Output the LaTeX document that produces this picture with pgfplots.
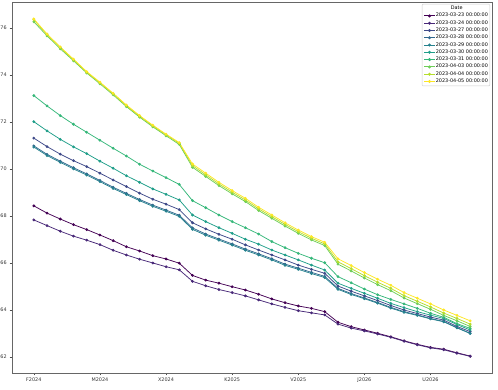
\documentclass[border=0pt]{standalone}
\usepackage{fontspec}
\setmainfont{DejaVu Sans}
\usepackage{pgfplots}
\usepackage{pgfplotstable}
\pgfplotsset{compat=1.18}

\definecolor{v0}{HTML}{440154}
\definecolor{v1}{HTML}{482878}
\definecolor{v2}{HTML}{3E4989}
\definecolor{v3}{HTML}{31688E}
\definecolor{v4}{HTML}{26828E}
\definecolor{v5}{HTML}{1F9E89}
\definecolor{v6}{HTML}{35B779}
\definecolor{v7}{HTML}{6ECE58}
\definecolor{v8}{HTML}{B5DE2B}
\definecolor{v9}{HTML}{FDE725}

\pgfplotstableread{
i A B C D E F G H I J
0 68.43 67.83 71.31 70.98 70.93 72.01 73.12 76.26 76.35 76.38
1 68.12 67.59 70.95 70.62 70.57 71.62 72.68 75.66 75.71 75.74
2 67.87 67.35 70.63 70.33 70.28 71.26 72.27 75.11 75.16 75.19
3 67.63 67.14 70.35 70.05 70.00 70.94 71.90 74.60 74.64 74.67
4 67.42 66.97 70.10 69.79 69.74 70.65 71.56 74.08 74.11 74.14
5 67.19 66.78 69.82 69.51 69.46 70.33 71.22 73.62 73.66 73.69
6 66.95 66.54 69.53 69.22 69.17 70.03 70.88 73.15 73.19 73.22
7 66.69 66.34 69.25 68.96 68.91 69.71 70.55 72.65 72.69 72.72
8 66.51 66.16 68.97 68.70 68.65 69.43 70.20 72.20 72.24 72.27
9 66.31 66.00 68.71 68.46 68.41 69.15 69.91 71.79 71.83 71.86
10 66.17 65.84 68.50 68.25 68.20 68.92 69.63 71.41 71.45 71.48
11 65.99 65.71 68.27 68.03 67.98 68.68 69.34 71.04 71.09 71.12
12 65.47 65.22 67.71 67.49 67.43 68.04 68.65 70.07 70.14 70.21
13 65.27 65.03 67.45 67.23 67.18 67.76 68.35 69.68 69.75 69.82
14 65.14 64.87 67.22 67.02 66.97 67.50 68.04 69.29 69.36 69.43
15 64.99 64.74 67.01 66.81 66.76 67.26 67.76 68.94 69.01 69.08
16 64.85 64.60 66.77 66.59 66.54 67.01 67.50 68.61 68.68 68.75
17 64.67 64.43 66.55 66.39 66.34 66.80 67.23 68.23 68.30 68.37
18 64.47 64.26 66.34 66.18 66.13 66.55 66.91 67.90 67.97 68.04
19 64.31 64.11 66.13 65.95 65.90 66.34 66.65 67.57 67.64 67.71
20 64.17 63.97 65.91 65.78 65.73 66.13 66.41 67.26 67.33 67.40
21 64.07 63.88 65.73 65.60 65.55 65.91 66.20 66.98 67.05 67.12
22 63.93 63.79 65.56 65.43 65.38 65.70 66.01 66.74 66.81 66.88
23 63.48 63.40 65.02 64.92 64.88 65.14 65.42 65.95 66.05 66.18
24 63.29 63.23 64.80 64.70 64.66 64.92 65.16 65.66 65.76 65.89
25 63.15 63.11 64.60 64.51 64.48 64.71 64.89 65.36 65.46 65.59
26 63.01 62.98 64.40 64.32 64.29 64.50 64.65 65.08 65.18 65.31
27 62.86 62.84 64.19 64.11 64.08 64.28 64.45 64.82 64.92 65.05
28 62.69 62.67 64.00 63.93 63.90 64.10 64.26 64.51 64.61 64.74
29 62.54 62.52 63.85 63.79 63.77 63.93 64.07 64.27 64.37 64.50
30 62.41 62.39 63.70 63.64 63.62 63.78 63.86 64.03 64.13 64.26
31 62.33 62.31 63.57 63.51 63.50 63.64 63.69 63.77 63.87 64.00
32 62.18 62.16 63.30 63.25 63.24 63.38 63.42 63.54 63.64 63.77
33 62.04 62.03 63.08 63.01 63.00 63.15 63.22 63.30 63.40 63.54
}\data

\begin{document}
\begin{tikzpicture}
\useasboundingbox (-12pt,-16pt) rectangle (486pt,373pt);
\begin{axis}[
  at={(0pt,0pt)}, anchor=south west,
  scale only axis, width=480pt, height=371pt,
  xmin=-1.65, xmax=34.65, ymin=61.32, ymax=77.10,
  xtick={0,5,10,15,20,25,30},
  xticklabels={F2024,M2024,X2024,K2025,V2025,J2026,U2026},
  ytick={62,64,66,68,70,72,74,76},
  tick pos=left, tick align=outside,
  major tick length=2.4pt,
  tick style={black!70, line width=0.4pt},
  axis line style={black!60, line width=0.5pt},
  tick label style={font=\fontsize{4.9}{5.5}\selectfont, text=black!80},
  xticklabel style={yshift=0.6pt},
  yticklabel style={xshift=0.6pt},
  /pgf/number format/assume math mode=true,
  every axis plot/.append style={line width=0.75pt, mark=*, mark size=1.0pt},
  legend image code/.code={\draw[line width=0.9pt, mark repeat=2,mark phase=2] plot coordinates {(0pt,0pt)(5.5pt,0pt)(11pt,0pt)};},
  legend cell align=left,
  legend style={at={(rel axis cs:1,1)}, anchor=north east, xshift=-2pt, yshift=-2pt,
    font=\fontsize{4.9}{5.6}\selectfont, draw=black!20, rounded corners=1pt,
    fill=white, fill opacity=0.8, text opacity=1,
    inner xsep=1.5pt, inner ysep=1.5pt, row sep=1.35pt,
    nodes={inner sep=0.4pt}},
]
\addlegendimage{empty legend}
\addlegendentry{\hspace*{15pt}Date}
\addplot[color=v0, mark options={fill=v0}] table[x=i,y=A] {\data};
\addlegendentry{2023-03-23 00:00:00}
\addplot[color=v1, mark options={fill=v1}] table[x=i,y=B] {\data};
\addlegendentry{2023-03-24 00:00:00}
\addplot[color=v2, mark options={fill=v2}] table[x=i,y=C] {\data};
\addlegendentry{2023-03-27 00:00:00}
\addplot[color=v3, mark options={fill=v3}] table[x=i,y=D] {\data};
\addlegendentry{2023-03-28 00:00:00}
\addplot[color=v4, mark options={fill=v4}] table[x=i,y=E] {\data};
\addlegendentry{2023-03-29 00:00:00}
\addplot[color=v5, mark options={fill=v5}] table[x=i,y=F] {\data};
\addlegendentry{2023-03-30 00:00:00}
\addplot[color=v6, mark options={fill=v6}] table[x=i,y=G] {\data};
\addlegendentry{2023-03-31 00:00:00}
\addplot[color=v7, mark options={fill=v7}] table[x=i,y=H] {\data};
\addlegendentry{2023-04-03 00:00:00}
\addplot[color=v8, mark options={fill=v8}] table[x=i,y=I] {\data};
\addlegendentry{2023-04-04 00:00:00}
\addplot[color=v9, mark options={fill=v9}] table[x=i,y=J] {\data};
\addlegendentry{2023-04-05 00:00:00}
\end{axis}
\end{tikzpicture}
\end{document}
